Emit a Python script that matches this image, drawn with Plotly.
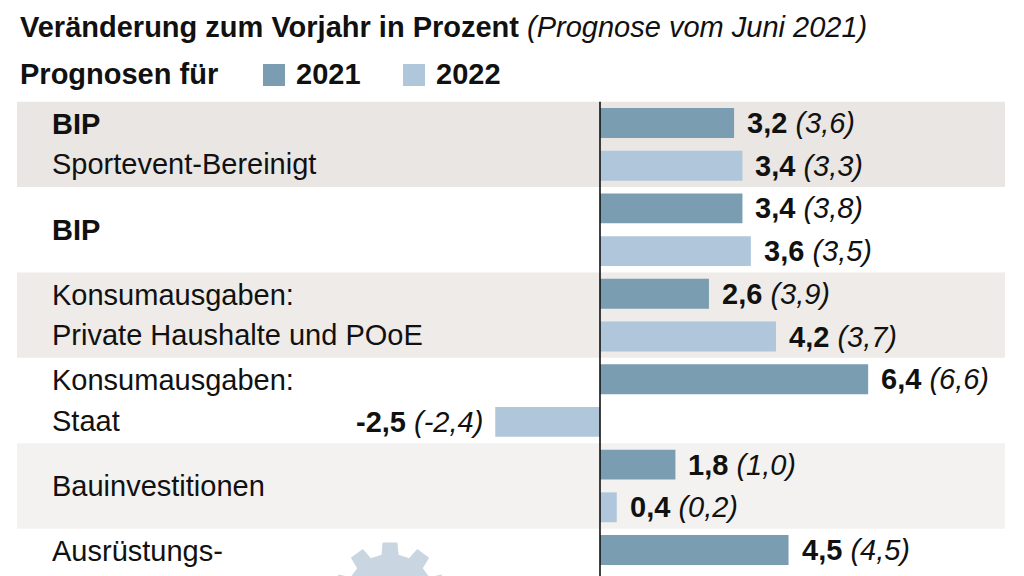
import math
import plotly.graph_objects as go

# ---- data ----
categories = [
    ["<b>BIP</b>", "Sportevent-Bereinigt"],
    ["<b>BIP</b>"],
    ["Konsumausgaben:", "Private Haushalte und POoE"],
    ["Konsumausgaben:", "Staat"],
    ["Bauinvestitionen"],
    ["Ausrüstungs-", "investitionen"],
]
values_2021 = [3.2, 3.4, 2.6, 6.4, 1.8, 4.5]
values_2022 = [3.4, 3.6, 4.2, -2.5, 0.4, None]
previous_2021 = [3.6, 3.8, 3.9, 6.6, 1.0, 4.5]
previous_2022 = [3.3, 3.5, 3.7, -2.4, 0.2, None]
series_names = ["2021", "2022"]

# ---- style ----
W, H = 1024, 576
FONT = "Liberation Sans"
FS = 29
C2021 = "#7a9db1"
C2022 = "#b0c6da"
BAND_COLORS = ["#e9e6e3", None, "#eeebe8", None, "#f3f2f0", None]

PX_PER_X = 41.9
ZERO_PX = 600
PX_PER_Y = 42.7
FIRST_BAR_PX = 123

x_range = [-ZERO_PX / PX_PER_X, (W - ZERO_PX) / PX_PER_X]
y_range = [(H - FIRST_BAR_PX) / PX_PER_Y, -FIRST_BAR_PX / PX_PER_Y]


def px_x(px):
    return px / W


def px_y(py):
    return 1 - py / H


def fmt(v):
    return ("%.1f" % v).replace(".", ",")


fig = go.Figure()

n = len(categories)
y21 = [2 * k for k in range(n)]
y22 = [2 * k + 1 for k in range(n)]

fig.add_trace(go.Bar(y=y21, x=values_2021, orientation="h", width=0.70,
                     marker=dict(color=C2021, line=dict(width=0)),
                     name=series_names[0], hoverinfo="skip"))
fig.add_trace(go.Bar(y=y22, x=values_2022, orientation="h", width=0.70,
                     marker=dict(color=C2022, line=dict(width=0)),
                     name=series_names[1], hoverinfo="skip"))

shapes = []
annotations = []

# background bands
for k, col in enumerate(BAND_COLORS):
    if col:
        shapes.append(dict(type="rect", xref="paper", yref="y",
                           x0=px_x(17), x1=px_x(1005), y0=2 * k - 0.5, y1=2 * k + 1.5,
                           fillcolor=col, line=dict(width=0), layer="below"))

# zero line
shapes.append(dict(type="line", xref="x", yref="y", x0=0, x1=0,
                   y0=-0.5, y1=y_range[0] + 1,
                   line=dict(color="#111111", width=1.6), layer="above"))

# category labels
for k, lines in enumerate(categories):
    c = 2 * k + 0.5
    if len(lines) == 1:
        offs = [0]
    else:
        offs = [-0.47, 0.47]
    for line, o in zip(lines, offs):
        annotations.append(dict(xref="paper", yref="y", x=px_x(50), y=c + o,
                                xanchor="left", yanchor="middle", showarrow=False,
                                text=line, font=dict(family=FONT, size=FS, color="#111111")))

# value labels
for ys, vals, prev in ((y21, values_2021, previous_2021), (y22, values_2022, previous_2022)):
    for yy, v, p in zip(ys, vals, prev):
        if v is None:
            continue
        txt = "<b>%s</b> <i>(%s)</i>" % (fmt(v), fmt(p))
        if v >= 0:
            annotations.append(dict(xref="x", yref="y", x=v, y=yy, xanchor="left",
                                    yanchor="middle", xshift=11, showarrow=False, text=txt,
                                    font=dict(family=FONT, size=FS, color="#111111")))
        else:
            annotations.append(dict(xref="x", yref="y", x=v, y=yy, xanchor="right",
                                    yanchor="middle", xshift=-10, showarrow=False, text=txt,
                                    font=dict(family=FONT, size=FS, color="#111111")))

# heading
annotations.append(dict(xref="paper", yref="paper", x=px_x(18), y=px_y(27),
                        xanchor="left", yanchor="middle", showarrow=False,
                        text="<b>Veränderung zum Vorjahr in Prozent</b> <i>(Prognose vom Juni 2021)</i>",
                        font=dict(family=FONT, size=FS, color="#111111")))

# legend (manual)
annotations.append(dict(xref="paper", yref="paper", x=px_x(18), y=px_y(74),
                        xanchor="left", yanchor="middle", showarrow=False,
                        text="<b>Prognosen für</b>",
                        font=dict(family=FONT, size=FS, color="#111111")))
for name, col, sx in ((series_names[0], C2021, 263), (series_names[1], C2022, 403)):
    shapes.append(dict(type="rect", xref="paper", yref="paper",
                       x0=px_x(sx), x1=px_x(sx + 22), y0=px_y(86), y1=px_y(64),
                       fillcolor=col, line=dict(width=0)))
    annotations.append(dict(xref="paper", yref="paper", x=px_x(sx + 31), y=px_y(74),
                            xanchor="left", yanchor="middle", showarrow=False,
                            text="<b>%s</b>" % name,
                            font=dict(family=FONT, size=FS, color="#111111")))

# watermark gear (decorative)
cx, cy = 390, 599
R_out, R_in, R_hole = 57, 45, 23
teeth = 10
step = 2 * math.pi / teeth
pts = []
for i in range(teeth):
    a = -math.pi / 2 + i * step
    half_tip = 0.13
    half_base = 0.19
    for ang, r in ((a - half_base, R_in), (a - half_tip, R_out),
                   (a + half_tip, R_out), (a + half_base, R_in)):
        pts.append((cx + r * math.cos(ang), cy + r * math.sin(ang)))
path = "M " + " L ".join("%.4f,%.4f" % (px_x(x), px_y(y)) for x, y in pts) + " Z"
hole = []
for i in range(40, -1, -1):
    ang = i * 2 * math.pi / 40
    hole.append((cx + R_hole * math.cos(ang), cy + R_hole * math.sin(ang)))
path += " M " + " L ".join("%.4f,%.4f" % (px_x(x), px_y(y)) for x, y in hole) + " Z"
shapes.append(dict(type="path", xref="paper", yref="paper", path=path,
                   fillcolor="#c9d5e0", line=dict(width=0), layer="below"))

fig.update_layout(
    width=W, height=H,
    margin=dict(l=0, r=0, t=0, b=0),
    paper_bgcolor="white", plot_bgcolor="rgba(0,0,0,0)",
    showlegend=False,
    barmode="overlay",
    xaxis=dict(range=x_range, visible=False, fixedrange=True, domain=[0, 1]),
    yaxis=dict(range=y_range, visible=False, fixedrange=True, domain=[0, 1]),
    shapes=shapes, annotations=annotations,
    font=dict(family=FONT, size=FS, color="#111111"),
)

fig.write_html("out.html", config={"displayModeBar": False},
               post_script="document.body.style.margin='0';document.body.style.overflow='hidden';")
